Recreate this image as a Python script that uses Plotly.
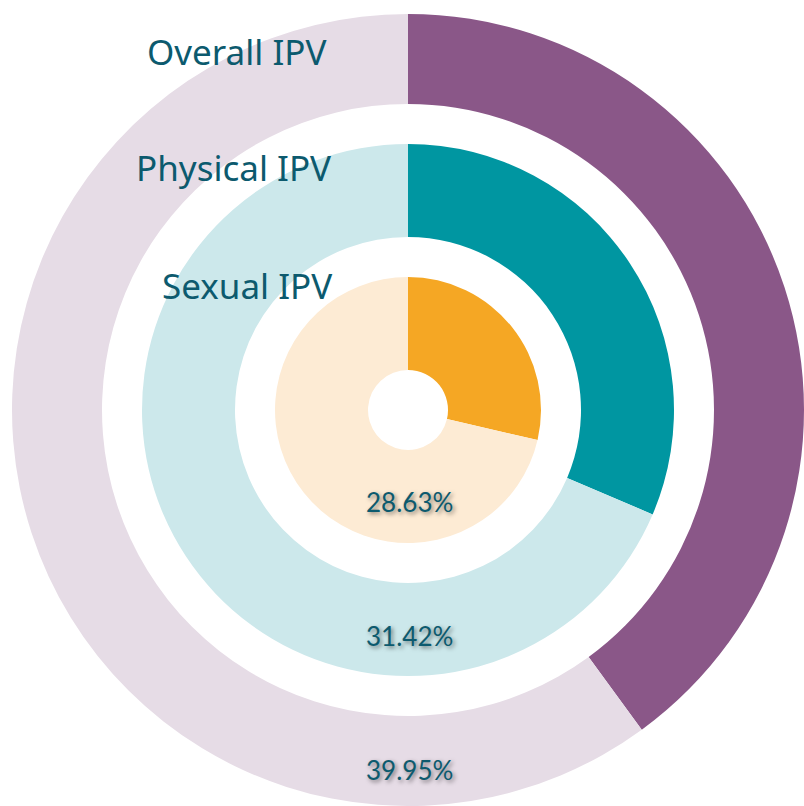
import plotly.graph_objects as go

# ---- data ----
ring_names = ["Overall IPV", "Physical IPV", "Sexual IPV"]
ring_values = [39.95, 31.42, 28.63]
pct_labels = ["39.95%", "31.42%", "28.63%"]
main_colors = ["#8A5788", "#0096A1", "#F5A724"]
rest_colors = ["#E6DCE6", "#CCE8EB", "#FDEBD4"]

# ---- layout geometry (pixels) ----
W, H = 804, 806
CX, CY = 408, 410
radii = [396, 266, 133]
holes_px = [306, 173, 40]
name_pos = [(328, 52), (333, 168), (334, 285)]
pct_y = [770, 636, 502]

TEXT = "#0C5A6E"

fig = go.Figure()
for i, name in enumerate(ring_names):
    r = radii[i]
    fig.add_trace(go.Pie(
        values=[ring_values[i], 100 - ring_values[i]],
        labels=[name, "Other"],
        marker=dict(colors=[main_colors[i], rest_colors[i]], line=dict(width=0)),
        hole=holes_px[i] / r,
        sort=False,
        direction="clockwise",
        rotation=0,
        textinfo="none",
        hoverinfo="label+percent",
        showlegend=False,
        domain=dict(x=[(CX - r) / W, (CX + r) / W],
                    y=[(H - CY - r) / H, (H - CY + r) / H]),
    ))

annotations = []
for i, name in enumerate(ring_names):
    x, y = name_pos[i]
    annotations.append(dict(
        text=name, x=x / W, y=1 - y / H, xref="paper", yref="paper",
        xanchor="right", yanchor="middle", showarrow=False,
        font=dict(family="Noto Sans, IBM Plex Sans, sans-serif", size=35, color=TEXT),
    ))
    annotations.append(dict(
        text=pct_labels[i], x=410 / W, y=1 - pct_y[i] / H, xref="paper", yref="paper",
        xanchor="center", yanchor="middle", showarrow=False,
        font=dict(family="Lato, sans-serif", size=26, color=TEXT,
                  shadow="2px 2px 4px rgba(0,0,0,0.5)"),
    ))

fig.update_layout(
    width=W, height=H,
    margin=dict(l=0, r=0, t=0, b=0),
    paper_bgcolor="white", plot_bgcolor="white",
    annotations=annotations,
    showlegend=False,
)

fig.write_html("out.html")
